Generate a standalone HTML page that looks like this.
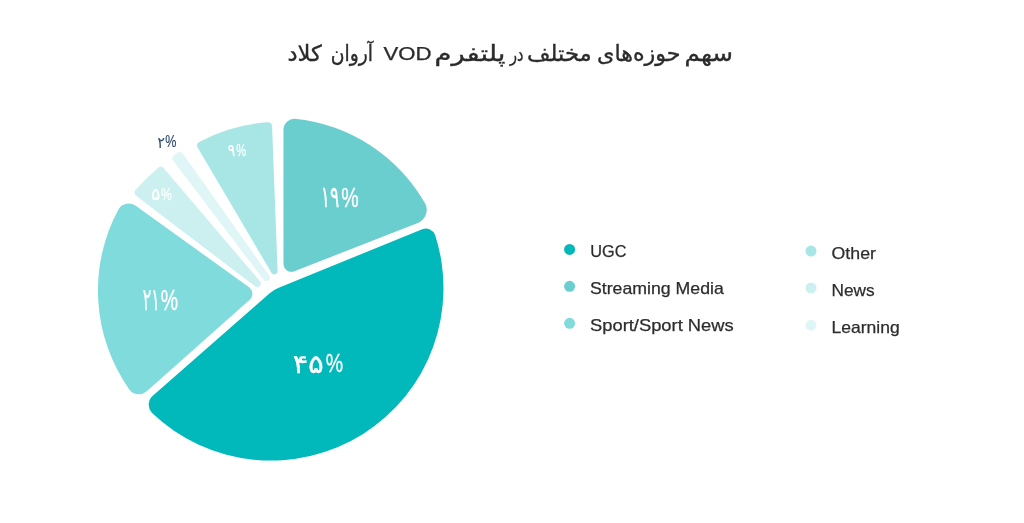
<!DOCTYPE html>
<html lang="fa"><head><meta charset="utf-8"><title>VOD</title>
<style>
html,body{margin:0;padding:0;background:#fff;}
body{width:1024px;height:523px;overflow:hidden;position:relative;font-family:"Liberation Sans","DejaVu Sans",sans-serif;}
svg{position:absolute;left:0;top:0;display:block}
text{font-family:"Liberation Sans","DejaVu Sans",sans-serif;}
.lg{font-size:16.5px;fill:#2d2d2d;stroke:#2d2d2d;stroke-width:0.25px}
.pl{fill:#fff}
</style></head><body>
<svg width="1024" height="523" viewBox="0 0 1024 523">
<rect width="1024" height="523" fill="#fff"/>
<g id="pie">
<path d="M283.45 263.81 L283.45 129.41 A11.00 11.00 0 0 1 294.79 118.79 A169.43 169.43 0 0 1 425.46 204.12 A14.00 14.00 0 0 1 418.40 222.67 L294.37 271.26 A8.00 8.00 0 0 1 283.45 263.81 Z" fill="#6ACDCE"/>
<path d="M278.17 287.94 L422.29 229.23 A10.00 10.00 0 0 1 435.10 234.96 A172.47 172.47 0 0 1 151.83 412.75 A12.00 12.00 0 0 1 152.49 395.96 L269.71 293.17 A30.00 30.00 0 0 1 278.17 287.94 Z" fill="#01B8BA"/>
<path d="M249.75 299.82 L146.46 391.50 A12.00 12.00 0 0 1 129.59 389.88 A171.46 171.46 0 0 1 118.67 208.93 A12.00 12.00 0 0 1 135.39 205.43 L249.12 287.35 A8.00 8.00 0 0 1 249.75 299.82 Z" fill="#80DBDC"/>
<path d="M254.95 286.31 L136.05 195.68 A4.00 4.00 0 0 1 135.39 190.02 A168.00 168.00 0 0 1 158.33 167.63 A4.00 4.00 0 0 1 163.79 168.18 L259.87 281.12 A3.60 3.60 0 0 1 254.95 286.31 Z" fill="#CCF0F0"/>
<path d="M271.48 272.84 L197.63 147.39 A4.00 4.00 0 0 1 199.12 141.93 A168.00 168.00 0 0 1 267.87 122.21 A4.00 4.00 0 0 1 272.02 126.01 L277.62 271.04 A3.30 3.30 0 0 1 271.48 272.84 Z" fill="#A8E6E6"/>
<path d="M174.08 155.08 L177.42 152.70 A4.00 4.00 0 0 1 183.01 153.65 L269.46 276.04 A3.00 3.00 0 0 1 267.83 280.65 L266.81 280.94 A3.00 3.00 0 0 1 263.60 279.87 L173.21 160.76 A4.00 4.00 0 0 1 174.08 155.08 Z" fill="#E0F6F6"/>
</g>
<g id="title" font-size="22" fill="#2b2b2b" stroke="#2b2b2b" stroke-width="0.35" direction="rtl">
<text x="733.0" y="60.5" text-anchor="start" textLength="48.50" lengthAdjust="spacingAndGlyphs">سهم</text>
<text x="680.5" y="60.5" text-anchor="start" textLength="83.50" lengthAdjust="spacingAndGlyphs">حوزه‌های</text>
<text x="591.75" y="60.5" text-anchor="start" textLength="64.75" lengthAdjust="spacingAndGlyphs">مختلف</text>
<text x="523.6" y="60.5" font-size="19" text-anchor="start" textLength="13.5" lengthAdjust="spacingAndGlyphs">در</text>
<text x="505.5" y="60.5" text-anchor="start" textLength="71.00" lengthAdjust="spacingAndGlyphs">پلتفرم</text>
<text x="383.5" y="59.5" direction="ltr" text-anchor="start" font-size="17.5" stroke-width="0.25" textLength="48" lengthAdjust="spacingAndGlyphs">VOD</text>
<text x="373.0" y="60.5" text-anchor="start" textLength="42.25" lengthAdjust="spacingAndGlyphs">آروان</text>
<text x="321.75" y="60.5" text-anchor="start" textLength="34.25" lengthAdjust="spacingAndGlyphs">کلاد</text>
</g>
<g id="labels" class="pl" stroke="#fff" stroke-width="0.35">
<text x="320.7" y="206.5" font-size="29.97" textLength="18.48" lengthAdjust="spacingAndGlyphs">۱۹</text>
<text x="341.3" y="206.5" font-size="28.39" textLength="17.47" lengthAdjust="spacingAndGlyphs">%</text>
<text x="292.8" y="372.7" font-size="25.85" textLength="30.78" lengthAdjust="spacingAndGlyphs">۴۵</text>
<text x="325.75" y="372.4" font-size="26.14" textLength="17.35" lengthAdjust="spacingAndGlyphs">%</text>
<text x="142.7" y="309.8" font-size="30.45" textLength="17.08" lengthAdjust="spacingAndGlyphs">۲۱</text>
<text x="160.75" y="309.8" font-size="28.68" textLength="17.35" lengthAdjust="spacingAndGlyphs">%</text>
<text x="227.7" y="156.3" font-size="17.16" stroke-width="0.25" textLength="7.43" lengthAdjust="spacingAndGlyphs">۹</text>
<text x="236.3" y="156.3" font-size="15.73" stroke-width="0.25" textLength="9.95" lengthAdjust="spacingAndGlyphs">%</text>
<text x="151.3" y="199.8" font-size="17.58" stroke-width="0.25" textLength="8.92" lengthAdjust="spacingAndGlyphs">۵</text>
<text x="161.3" y="199.8" font-size="16.12" stroke-width="0.25" textLength="10.45" lengthAdjust="spacingAndGlyphs">%</text>
<text x="157.5" y="148.3" font-size="15.82" fill="#34506f" stroke="#34506f" stroke-width="0.2" textLength="7.36" lengthAdjust="spacingAndGlyphs">۲</text>
<text x="165.2" y="147.4" font-size="15.73" fill="#34506f" stroke="#34506f" stroke-width="0.2" textLength="11.19" lengthAdjust="spacingAndGlyphs">%</text>
</g>
<g id="legend">
<circle cx="569.6" cy="249.4" r="5.5" fill="#01B8BA"/>
<circle cx="569.6" cy="286.3" r="5.5" fill="#6ACDCE"/>
<circle cx="569.6" cy="323.3" r="5.5" fill="#80DBDC"/>
<circle cx="811" cy="251.1" r="5.5" fill="#A8E6E6"/>
<circle cx="811" cy="288" r="5.5" fill="#CCF0F0"/>
<circle cx="811" cy="325.2" r="5.5" fill="#E0F6F6"/>
<text class="lg" x="590.25" y="256.9" textLength="36.25" lengthAdjust="spacingAndGlyphs">UGC</text>
<text class="lg" x="590" y="294.25" textLength="133.75" lengthAdjust="spacingAndGlyphs">Streaming Media</text>
<text class="lg" x="590" y="331.25" textLength="143.75" lengthAdjust="spacingAndGlyphs">Sport/Sport News</text>
<text class="lg" x="831.6" y="258.7" textLength="44.3" lengthAdjust="spacingAndGlyphs">Other</text>
<text class="lg" x="831.6" y="295.8" textLength="43.1" lengthAdjust="spacingAndGlyphs">News</text>
<text class="lg" x="831.6" y="333.2" textLength="68.1" lengthAdjust="spacingAndGlyphs">Learning</text>
</g>
</svg>
</body></html>
